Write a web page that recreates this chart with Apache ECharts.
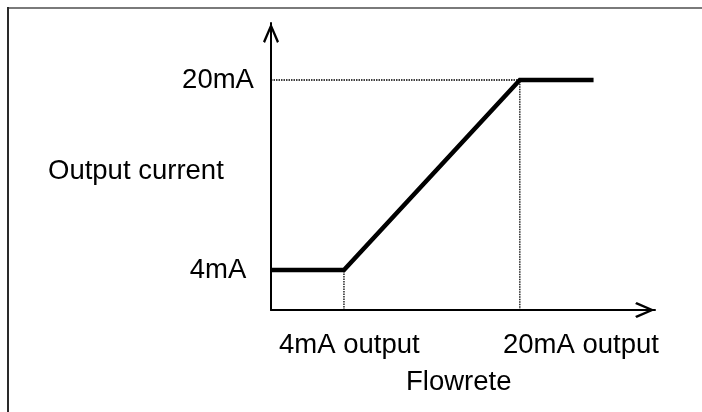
<!DOCTYPE html>
<html>
<head>
<meta charset="utf-8">
<script src="https://cdn.jsdelivr.net/npm/echarts@6/dist/echarts.min.js"></script>
<style>
  html, body { margin: 0; padding: 0; background: #fff; }
  #chart { width: 702px; height: 412px; }
</style>
</head>
<body>
<div id="chart"></div>
<script>
// Output current response versus flow rate (schematic)
var flowPoints = [0, 19, 64.8, 84];          // flow: start, 4 mA break, 20 mA break, end
var currentPoints = [4, 4, 20, 20];           // output current, mA
var currentTicks = [4, 20];                   // labelled current levels, mA
var flowAxisRange = [0, 100];
var currentAxisRange = [0.63, 24.8];
var flowLabels = ['4mA output', '20mA output'];
var axisNames = { y: 'Output current', x: 'Flowrete' };

var FONT = '"Liberation Sans", Arial, sans-serif';
var FS = 27.5;

// open V arrow head, drawn as a filled chevron
var chevron = 'path://M8,0 L16,18.3 L14,19.8 L8,5.6 L2,19.8 L0,18.3 Z';

var mainLine = flowPoints.map(function (f, i) { return [f, currentPoints[i]]; });
var guideHigh = [
  [flowAxisRange[0], currentPoints[2]],
  [flowPoints[2], currentPoints[2]],
  [flowPoints[2], currentAxisRange[0]]
];
var guideLow = [
  [flowPoints[1], currentAxisRange[0]],
  [flowPoints[1], currentPoints[1]]
];

var chart = echarts.init(document.getElementById('chart'), null, { renderer: 'canvas' });

var axisLineCommon = {
  show: true,
  symbol: ['none', chevron],
  symbolSize: [16, 20],
  symbolOffset: [0, -10],
  lineStyle: { color: '#000', width: 2 }
};

var guideStyle = { color: '#000', width: 1.3, type: [1.5, 1] };

chart.setOption({
  animation: false,
  backgroundColor: '#fff',
  grid: { left: 271, right: 47, top: 23, bottom: 102, containLabel: false },
  xAxis: {
    type: 'value',
    min: flowAxisRange[0],
    max: flowAxisRange[1],
    axisLine: axisLineCommon,
    axisTick: { show: false },
    axisLabel: { show: false },
    splitLine: { show: false }
  },
  yAxis: {
    type: 'value',
    min: currentAxisRange[0],
    max: currentAxisRange[1],
    axisLine: axisLineCommon,
    axisTick: { show: false },
    splitLine: { show: false },
    axisLabel: {
      show: true,
      customValues: currentTicks,
      formatter: function (v) { return v + 'mA'; },
      align: 'center',
      margin: 53,
      color: '#000',
      fontFamily: FONT,
      fontSize: FS
    }
  },
  series: [
    { type: 'line', data: guideHigh, symbol: 'none', lineStyle: guideStyle, z: 1 },
    { type: 'line', data: guideLow, symbol: 'none', lineStyle: guideStyle, z: 1 },
    {
      type: 'line',
      data: mainLine,
      symbol: 'none',
      lineStyle: { color: '#000', width: 4.5, join: 'miter' },
      z: 3
    }
  ],
  graphic: [
    { type: 'rect', shape: { x: 7, y: 7, width: 702, height: 2 }, style: { fill: '#7a7a7a' }, silent: true },
    { type: 'rect', shape: { x: 7, y: 7, width: 2, height: 412 }, style: { fill: '#2a2a2a' }, silent: true },
    { type: 'text', left: 48, top: 157, style: { text: axisNames.y, font: FS + 'px ' + FONT, fill: '#000' } },
    { type: 'text', left: 279, top: 331, style: { text: flowLabels[0], font: FS + 'px ' + FONT, fill: '#000' } },
    { type: 'text', left: 503, top: 331, style: { text: flowLabels[1], font: FS + 'px ' + FONT, fill: '#000' } },
    { type: 'text', left: 406, top: 368, style: { text: axisNames.x, font: FS + 'px ' + FONT, fill: '#000' } }
  ]
});
</script>
</body>
</html>
